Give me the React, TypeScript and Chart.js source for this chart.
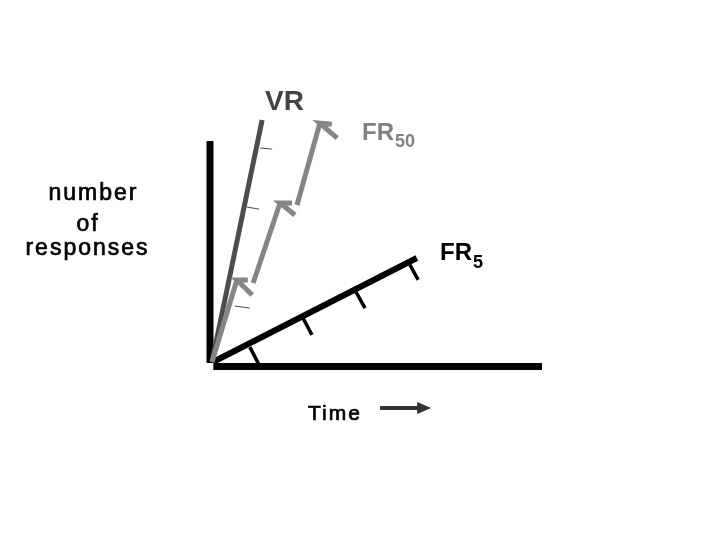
import React, { useEffect, useRef } from "react";
import { Chart, registerables } from "chart.js";

Chart.register(...registerables);

// ---- data (schematic units: time 0..10, responses 0..10) ----
const axisTime = [{ x: 0.1, y: 0 }, { x: 10, y: 0 }];
const axisResponses = [{ x: 0, y: 0.15 }, { x: 0, y: 10 }];

const vrLine = [{ x: 0.06, y: 0.2 }, { x: 1.57, y: 10.93 }];
const vrMarks = [
  [{ x: 1.51, y: 9.69 }, { x: 1.87, y: 9.64 }],
  [{ x: 1.11, y: 7.07 }, { x: 1.48, y: 6.98 }],
  [{ x: 0.75, y: 2.68 }, { x: 1.2, y: 2.59 }],
];

const fr50Runs = [
  [{ x: 0.06, y: 0.2 }, { x: 0.81, y: 3.84 }],
  [{ x: 1.3, y: 3.7 }, { x: 2.11, y: 7.25 }],
  [{ x: 2.62, y: 7.16 }, { x: 3.31, y: 10.79 }],
];
const fr50Marks = [
  [{ x: 1.14, y: 3.84 }, { x: 0.81, y: 3.84 }, { x: 1.27, y: 3.17 }],
  [{ x: 2.47, y: 7.25 }, { x: 2.11, y: 7.25 }, { x: 2.56, y: 6.72 }],
  [{ x: 3.67, y: 10.74 }, { x: 3.31, y: 10.79 }, { x: 3.83, y: 10.13 }],
];

const fr5Line = [{ x: 0.09, y: 0.2 }, { x: 6.23, y: 4.81 }];
const fr5Marks = [
  [{ x: 1.2, y: 0.86 }, { x: 1.48, y: 0.07 }],
  [{ x: 2.8, y: 2.15 }, { x: 3.07, y: 1.4 }],
  [{ x: 4.4, y: 3.3 }, { x: 4.67, y: 2.59 }],
  [{ x: 5.99, y: 4.59 }, { x: 6.27, y: 3.84 }],
];

const timeArrow = [{ x: 5.12, y: -1.84 }, { x: 6.33, y: -1.84 }];

const yLabelLines = ["number", "of", "responses"];
const xLabel = "Time";
const seriesNames = [
  { main: "VR", sub: "" },
  { main: "FR", sub: "50" },
  { main: "FR", sub: "5" },
];

// ---- layout / style ----
const labelAnchors = {
  series: [
    { x: 1.66, y: 11.37, subDy: 0 },
    { x: 4.58, y: 10.04, subDy: 7 },
    { x: 6.93, y: 4.72, subDy: 8 },
  ],
  yLines: [
    { x: -3.51, y: 7.38 },
    { x: -3.67, y: 6.01 },
    { x: -3.69, y: 4.94 },
  ],
  xLabel: { x: 2.95, y: -2.37 },
};
const seriesTextStyle = [
  { color: "#444444", size: 28, subSize: 18 },
  { color: "#808080", size: 24, subSize: 18 },
  { color: "#000000", size: 24, subSize: 18 },
];

const VR_COLOR = "#4d4d4d";
const FR50_COLOR = "#858585";
const FONT = "'Liberation Sans', Arial, sans-serif";

function seg(data: { x: number; y: number }[], color: string, width: number) {
  return {
    data,
    showLine: true,
    borderColor: color,
    backgroundColor: color,
    borderWidth: width,
    pointRadius: 0,
    pointHoverRadius: 0,
    fill: false,
    tension: 0,
    clip: false as any,
    borderCapStyle: "butt" as const,
    borderJoinStyle: "miter" as const,
  };
}

const labelsPlugin = {
  id: "schematicLabels",
  afterDatasetsDraw(chart: any) {
    const ctx = chart.ctx as CanvasRenderingContext2D;
    const xs = chart.scales.x;
    const ys = chart.scales.y;
    const px = (v: number) => xs.getPixelForValue(v);
    const py = (v: number) => ys.getPixelForValue(v);
    ctx.save();
    ctx.textBaseline = "alphabetic";

    // arrow head on time arrow
    const end = timeArrow[timeArrow.length - 1];
    const ex = px(end.x);
    const ey = py(end.y);
    ctx.fillStyle = "#333333";
    ctx.beginPath();
    ctx.moveTo(ex - 3, ey - 6);
    ctx.lineTo(ex + 11, ey);
    ctx.lineTo(ex - 3, ey + 6);
    ctx.closePath();
    ctx.fill();

    // series names
    seriesNames.forEach((s, i) => {
      const a = labelAnchors.series[i];
      const st = seriesTextStyle[i];
      const x0 = px(a.x);
      const y0 = py(a.y);
      ctx.fillStyle = st.color;
      ctx.textAlign = "left";
      ctx.font = `bold ${st.size}px ${FONT}`;
      ctx.fillText(s.main, x0, y0);
      const w = ctx.measureText(s.main).width;
      if (s.sub) {
        ctx.font = `bold ${st.subSize}px ${FONT}`;
        ctx.fillText(s.sub, x0 + w + 1, y0 + a.subDy);
      }
    });

    // y label lines
    ctx.fillStyle = "#000000";
    ctx.strokeStyle = "#000000";
    ctx.lineWidth = 0.7;
    ctx.textAlign = "center";
    ctx.font = `23px ${FONT}`;
    (ctx as any).letterSpacing = "2px";
    yLabelLines.forEach((t, i) => {
      const a = labelAnchors.yLines[i];
      ctx.fillText(t, px(a.x), py(a.y));
      ctx.strokeText(t, px(a.x), py(a.y));
    });

    // x label
    ctx.textAlign = "left";
    ctx.font = `21px ${FONT}`;
    ctx.fillText(xLabel, px(labelAnchors.xLabel.x), py(labelAnchors.xLabel.y));
    ctx.strokeText(xLabel, px(labelAnchors.xLabel.x), py(labelAnchors.xLabel.y));
    (ctx as any).letterSpacing = "0px";
    ctx.restore();
  },
};

export default function App() {
  const ref = useRef<HTMLCanvasElement | null>(null);

  useEffect(() => {
    if (!ref.current) return;
    const datasets: any[] = [];
    // drawn with index 0 on top
    fr50Marks.forEach((m) => datasets.push(seg(m, FR50_COLOR, 5)));
    fr50Runs.forEach((r) => datasets.push(seg(r, FR50_COLOR, 5)));
    datasets.push(seg(vrLine, VR_COLOR, 5));
    vrMarks.forEach((m) => datasets.push(seg(m, VR_COLOR, 1)));
    fr5Marks.forEach((m) => datasets.push(seg(m, "#000000", 3.5)));
    datasets.push(seg(fr5Line, "#000000", 6));
    datasets.push(seg(timeArrow, "#333333", 4));
    datasets.push(seg(axisTime, "#000000", 7));
    datasets.push(seg(axisResponses, "#000000", 7));

    const chart = new Chart(ref.current, {
      type: "scatter",
      data: { datasets },
      options: {
        responsive: false,
        animation: false,
        devicePixelRatio: 1,
        layout: { padding: { left: 210, right: 178, top: 141, bottom: 173.5 } },
        plugins: { legend: { display: false }, tooltip: { enabled: false } },
        events: [],
        scales: {
          x: { type: "linear", min: 0, max: 10, display: false },
          y: { type: "linear", min: 0, max: 10, display: false },
        },
      },
      plugins: [labelsPlugin],
    });
    return () => chart.destroy();
  }, []);

  return (
    <canvas
      ref={ref}
      width={720}
      height={540}
      style={{ position: "fixed", left: 0, top: 0, width: 720, height: 540, background: "#ffffff" }}
    />
  );
}
